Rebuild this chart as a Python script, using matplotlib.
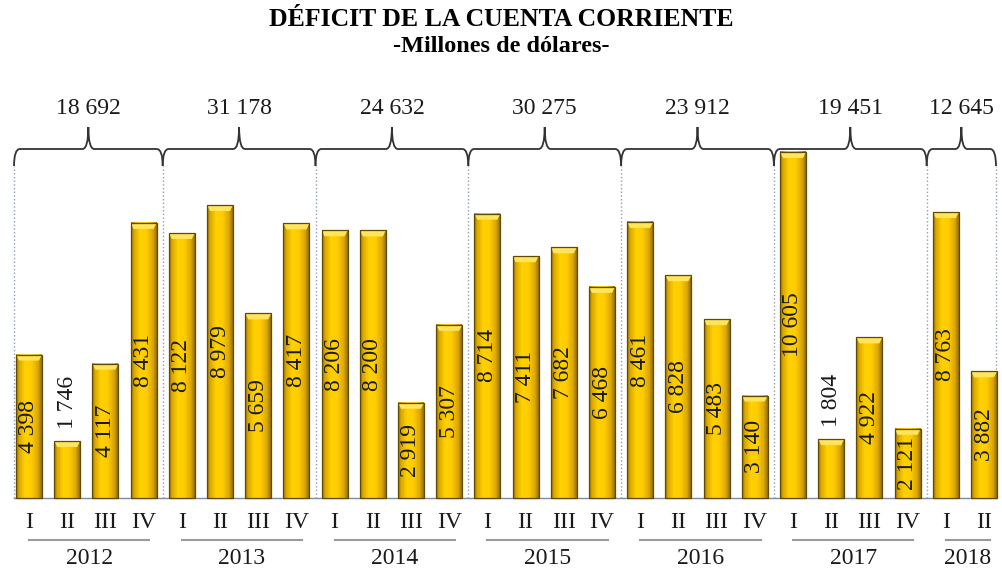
import numpy as np
import matplotlib
matplotlib.use('Agg')
import matplotlib.pyplot as plt
from matplotlib.colors import LinearSegmentedColormap
from matplotlib.path import Path
from matplotlib.patches import PathPatch, Rectangle, Polygon

plt.rcParams['font.family'] = ['Liberation Serif', 'DejaVu Serif']

# data (millones de dolares)
years = ['2012', '2013', '2014', '2015', '2016', '2017', '2018']
quarters = ['I', 'II', 'III', 'IV']
values = [
    [4398, 1746, 4117, 8431],
    [8122, 8979, 5659, 8417],
    [8206, 8200, 2919, 5307],
    [8714, 7411, 7682, 6468],
    [8461, 6828, 5483, 3140],
    [10605, 1804, 4922, 2121],
    [8763, 3882],
]
# annual totals as printed (rounded separately)
totals = [18692, 31178, 24632, 30275, 23912, 19451, 12645]

def fmt(v):
    return f"{v:,}".replace(',', ' ')

# pixel -> data helpers (figure is 1002x569 px, axes cover the whole figure)
px_per_unit = 346 / 10605.0
x0_px, dx_px, base_px = 29.0, 38.2, 498.0
def ypx(p):
    return (base_px - p) / px_per_unit
def xpx(p):
    return (p - x0_px) / dx_px

fig = plt.figure(figsize=(10.02, 5.69), dpi=100)
ax = fig.add_axes([0, 0, 1, 1])
ax.axis('off')

cmap = LinearSegmentedColormap.from_list('gold', [
    (0.0, '#9c7400'), (0.12, '#dcaa00'), (0.35, '#ffd200'),
    (0.6, '#ffcc00'), (0.85, '#dca800'), (1.0, '#957000')])
grad = np.linspace(0, 1, 64).reshape(1, -1)

w = 0.68
bevel = 6 / px_per_unit
bev_x = 3 / dx_px
idx = 0
bounds = [xpx(14)]
for g, yv in enumerate(values):
    first = idx
    for v in yv:
        ax.bar(idx, v, width=w, color='none', edgecolor='none')
        ax.imshow(grad, cmap=cmap, extent=(idx - w/2, idx + w/2, 0, v),
                  aspect='auto', zorder=2)
        ax.add_patch(Polygon([(idx - w/2, v), (idx + w/2, v),
                              (idx + w/2 - bev_x, v - bevel), (idx - w/2 + bev_x, v - bevel)],
                             closed=True, facecolor='#ffe45c', edgecolor='none', zorder=3))
        ax.add_patch(Rectangle((idx - w/2, 0), w, v, facecolor='none',
                               edgecolor='#5e4a00', lw=0.9, zorder=4))
        if v < 2000:
            ax.text(idx, v + 12 / px_per_unit, fmt(v), rotation=90, ha='center', va='bottom',
                    fontsize=17, color='#1a1a1a', zorder=5)
        else:
            ax.text(idx, v / 2, fmt(v), rotation=90, ha='center', va='center',
                    fontsize=17, color='#1a1a1a', zorder=5)
        ax.text(idx, ypx(523), quarters[idx - first], ha='center', va='center',
                fontsize=17, color='#1a1a1a')
        idx += 1
    last = idx - 1
    # year underline and label
    ax.plot([first, last + 0.15], [ypx(540), ypx(540)], color='#9a9a9a', lw=1.5)
    ax.text((first + last + 0.15) / 2, ypx(559), years[g], ha='center', va='center',
            fontsize=17, color='#1a1a1a')
    bounds.append(last + 0.5 if g < len(values) - 1 else xpx(996))

ax.set_xlim(xpx(0), xpx(1002))
ax.set_ylim(ypx(569), ypx(0))

# baseline
ax.plot([bounds[0], bounds[-1]], [0, 0], color='#7d8ba3', lw=1.0, zorder=1)

# dotted separators and braces
y_h, y_end, y_tip = ypx(149), ypx(166), ypx(127)
r = 6 / dx_px
for b in bounds:
    ax.plot([b, b], [0, y_end], color='#8e9cb4', lw=1.0, ls=':', zorder=1)
for g in range(len(values)):
    a, b = bounds[g], bounds[g + 1]
    m = (a + b) / 2
    verts = [(a, y_end), (a, y_h), (a + r, y_h),
             (m - r, y_h),
             (m, y_h), (m, y_tip),
             (m, y_h), (m + r, y_h),
             (b - r, y_h),
             (b, y_h), (b, y_end)]
    codes = [Path.MOVETO, Path.CURVE3, Path.CURVE3,
             Path.LINETO,
             Path.CURVE3, Path.CURVE3,
             Path.CURVE3, Path.CURVE3,
             Path.LINETO,
             Path.CURVE3, Path.CURVE3]
    ax.add_patch(PathPatch(Path(verts, codes), facecolor='none', edgecolor='#333333', lw=1.3))
    ax.text(m, ypx(108), fmt(totals[g]), ha='center', va='center',
            fontsize=17, color='#1a1a1a')

fig.text(0.5, 1 - 20 / 569, 'DÉFICIT DE LA CUENTA CORRIENTE', ha='center', va='center',
         fontsize=18.5, fontweight='bold')
fig.text(0.5, 1 - 46 / 569, '-Millones de dólares-', ha='center', va='center',
         fontsize=17.5, fontweight='bold')

fig.savefig('out.png', dpi=100)
